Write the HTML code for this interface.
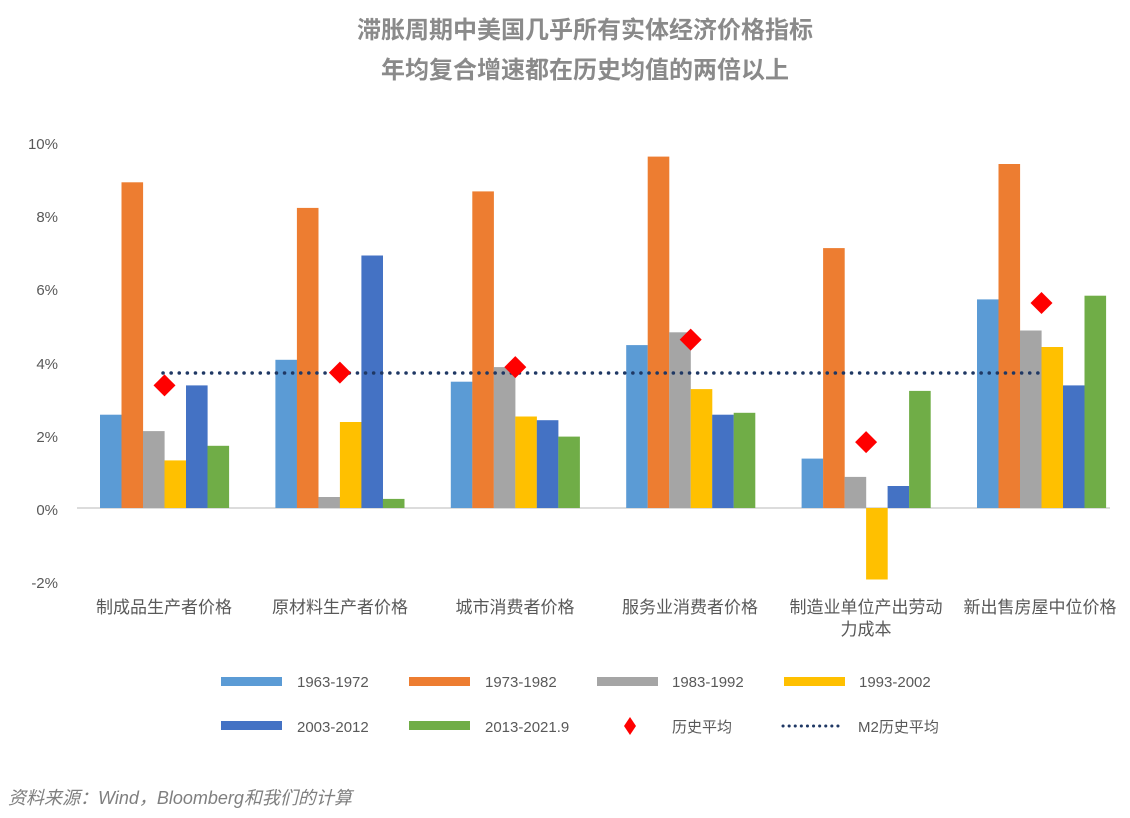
<!DOCTYPE html>
<html><head><meta charset="utf-8"><style>
body{margin:0;background:#fff;}
svg{display:block;font-family:"Liberation Sans","Noto Sans CJK SC",sans-serif;}
</style></head><body>
<svg width="1130" height="818" viewBox="0 0 1130 818" xmlns="http://www.w3.org/2000/svg">
<text x="585" y="38" text-anchor="middle" font-size="24" font-weight="bold" fill="#8a8a8a">滞胀周期中美国几乎所有实体经济价格指标</text>
<text x="585" y="78" text-anchor="middle" font-size="24" font-weight="bold" fill="#8a8a8a">年均复合增速都在历史均值的两倍以上</text>
<g font-size="15" fill="#595959" text-anchor="end">
<text x="58" y="149">10%</text><text x="58" y="222">8%</text><text x="58" y="295">6%</text>
<text x="58" y="369">4%</text><text x="58" y="442">2%</text><text x="58" y="515">0%</text><text x="58" y="588">-2%</text>
</g>
<line x1="77" y1="508" x2="1110" y2="508" stroke="#d0d0d0" stroke-width="1.5"/>
<g>
<rect x="100" y="414.7" width="21.6" height="93.3" fill="#5b9bd5"/>
<rect x="121.5" y="182.3" width="21.6" height="325.7" fill="#ed7d31"/>
<rect x="143" y="431.1" width="21.6" height="76.9" fill="#a5a5a5"/>
<rect x="164.5" y="460.4" width="21.6" height="47.6" fill="#ffc000"/>
<rect x="186" y="385.4" width="21.6" height="122.6" fill="#4472c4"/>
<rect x="207.5" y="445.8" width="21.6" height="62.2" fill="#70ad47"/>

<rect x="275.4" y="359.8" width="21.6" height="148.2" fill="#5b9bd5"/>
<rect x="296.9" y="207.9" width="21.6" height="300.1" fill="#ed7d31"/>
<rect x="318.4" y="497" width="21.6" height="11" fill="#a5a5a5"/>
<rect x="339.9" y="422" width="21.6" height="86" fill="#ffc000"/>
<rect x="361.4" y="255.5" width="21.6" height="252.5" fill="#4472c4"/>
<rect x="382.9" y="498.9" width="21.6" height="9.1" fill="#70ad47"/>

<rect x="450.8" y="381.7" width="21.6" height="126.3" fill="#5b9bd5"/>
<rect x="472.3" y="191.4" width="21.6" height="316.6" fill="#ed7d31"/>
<rect x="493.8" y="367.1" width="21.6" height="140.9" fill="#a5a5a5"/>
<rect x="515.3" y="416.5" width="21.6" height="91.5" fill="#ffc000"/>
<rect x="536.8" y="420.2" width="21.6" height="87.8" fill="#4472c4"/>
<rect x="558.3" y="436.6" width="21.6" height="71.4" fill="#70ad47"/>

<rect x="626.2" y="345.1" width="21.6" height="162.9" fill="#5b9bd5"/>
<rect x="647.7" y="156.6" width="21.6" height="351.4" fill="#ed7d31"/>
<rect x="669.2" y="332.3" width="21.6" height="175.7" fill="#a5a5a5"/>
<rect x="690.7" y="389.1" width="21.6" height="118.9" fill="#ffc000"/>
<rect x="712.2" y="414.7" width="21.6" height="93.3" fill="#4472c4"/>
<rect x="733.7" y="412.8" width="21.6" height="95.2" fill="#70ad47"/>

<rect x="801.6" y="458.6" width="21.6" height="49.4" fill="#5b9bd5"/>
<rect x="823.1" y="248.1" width="21.6" height="259.9" fill="#ed7d31"/>
<rect x="844.6" y="476.9" width="21.6" height="31.1" fill="#a5a5a5"/>
<rect x="866.1" y="508" width="21.6" height="71.5" fill="#ffc000"/>
<rect x="887.6" y="486" width="21.6" height="22" fill="#4472c4"/>
<rect x="909.1" y="390.9" width="21.6" height="117.1" fill="#70ad47"/>

<rect x="977" y="299.4" width="21.6" height="208.6" fill="#5b9bd5"/>
<rect x="998.5" y="164" width="21.6" height="344" fill="#ed7d31"/>
<rect x="1020" y="330.5" width="21.6" height="177.5" fill="#a5a5a5"/>
<rect x="1041.5" y="347" width="21.6" height="161" fill="#ffc000"/>
<rect x="1063" y="385.4" width="21.6" height="122.6" fill="#4472c4"/>
<rect x="1084.5" y="295.7" width="21.6" height="212.3" fill="#70ad47"/>
</g>
<line x1="163" y1="373" x2="1040" y2="373" stroke="#1f3864" stroke-width="3.5" stroke-dasharray="0.1 8" stroke-linecap="round"/>
<g fill="#ff0000">
<polygon points="164.5,374.4 175.5,385.4 164.5,396.4 153.5,385.4"/>
<polygon points="339.9,361.6 350.9,372.6 339.9,383.6 328.9,372.6"/>
<polygon points="515.3,356.1 526.3,367.1 515.3,378.1 504.3,367.1"/>
<polygon points="690.7,328.6 701.7,339.6 690.7,350.6 679.7,339.6"/>
<polygon points="866.1,431.1 877.1,442.1 866.1,453.1 855.1,442.1"/>
<polygon points="1041.5,292 1052.5,303 1041.5,314 1030.5,303"/>
</g>
<g font-size="17" fill="#595959" text-anchor="middle">
<text x="164" y="613">制成品生产者价格</text><text x="340" y="613">原材料生产者价格</text>
<text x="515" y="613">城市消费者价格</text><text x="690" y="613">服务业消费者价格</text>
<text x="866" y="613">制造业单位产出劳动</text><text x="866" y="635">力成本</text>
<text x="1040" y="613">新出售房屋中位价格</text>
</g>
<g font-size="15" fill="#595959">
<rect x="221" y="677" width="61" height="9" fill="#5b9bd5"/><text x="297" y="687">1963-1972</text>
<rect x="409" y="677" width="61" height="9" fill="#ed7d31"/><text x="485" y="687">1973-1982</text>
<rect x="597" y="677" width="61" height="9" fill="#a5a5a5"/><text x="672" y="687">1983-1992</text>
<rect x="784" y="677" width="61" height="9" fill="#ffc000"/><text x="859" y="687">1993-2002</text>
<rect x="221" y="721" width="61" height="9" fill="#4472c4"/><text x="297" y="732">2003-2012</text>
<rect x="409" y="721" width="61" height="9" fill="#70ad47"/><text x="485" y="732">2013-2021.9</text>
<polygon points="630,717 636,726 630,735 624,726" fill="#ff0000"/><text x="672" y="732">历史平均</text>
<line x1="783" y1="726" x2="840" y2="726" stroke="#1f3864" stroke-width="3" stroke-dasharray="0.1 6" stroke-linecap="round"/><text x="858" y="732">M2历史平均</text>
</g>
<text x="8" y="804" font-size="18" font-style="italic" fill="#7f7f7f">资料来源：Wind，Bloomberg和我们的计算</text>
</svg>
</body></html>
